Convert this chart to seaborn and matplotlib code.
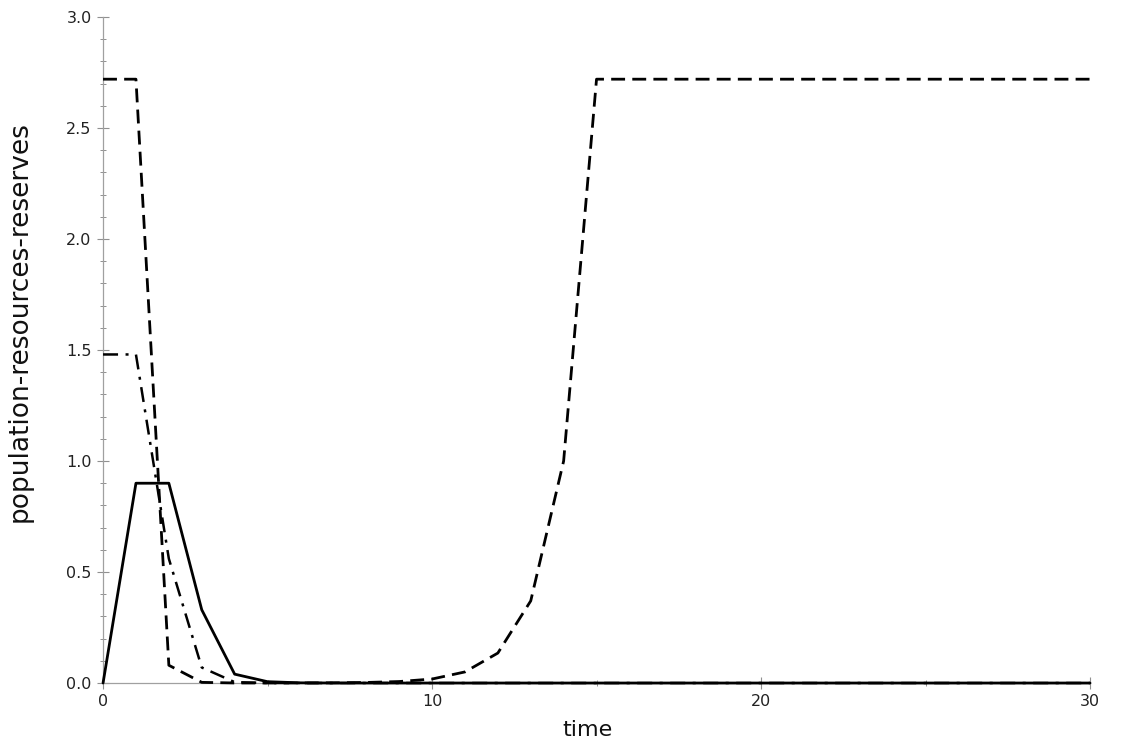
import numpy as np
import pandas as pd
import matplotlib
matplotlib.use("Agg")
import matplotlib.pyplot as plt
import seaborn as sns
from matplotlib.ticker import MultipleLocator

time = list(range(0, 31))
population = [0.0, 0.9, 0.9, 0.33, 0.04, 0.006, 0.0008, 0.0001, 0.0, 0.0,
              0.0, 0.0, 0.0, 0.0, 0.0, 0.0, 0.0, 0.0, 0.0, 0.0,
              0.0, 0.0, 0.0, 0.0, 0.0, 0.0, 0.0, 0.0, 0.0, 0.0, 0.0]
resources = [1.48, 1.48, 0.56, 0.07, 0.004, 0.0002, 0.0, 0.0, 0.0, 0.0,
             0.0, 0.0, 0.0, 0.0, 0.0, 0.0, 0.0, 0.0, 0.0, 0.0,
             0.0, 0.0, 0.0, 0.0, 0.0, 0.0, 0.0, 0.0, 0.0, 0.0, 0.0]
reserves = [2.72, 2.72, 0.08, 0.003, 0.0002, 0.0001, 0.0001, 0.0009, 0.0025, 0.0067,
            0.018, 0.05, 0.135, 0.37, 1.0, 2.72, 2.72, 2.72, 2.72, 2.72,
            2.72, 2.72, 2.72, 2.72, 2.72, 2.72, 2.72, 2.72, 2.72, 2.72, 2.72]

df = pd.DataFrame({"time": time, "population": population,
                   "resources": resources, "reserves": reserves})

sns.set_style("white")
plt.rcParams["font.family"] = ["DejaVu Sans"]

fig = plt.figure(figsize=(11.25, 7.5), dpi=100)
ax = fig.add_axes([0.0916, 0.0893, 0.8773, 0.8880])

sns.lineplot(data=df, x="time", y="reserves", ax=ax, color="black",
             linewidth=2.0, zorder=4)
ax.lines[-1].set_linestyle((0, (5, 2.6)))
sns.lineplot(data=df, x="time", y="resources", ax=ax, color="black",
             linewidth=1.8, zorder=4)
ax.lines[-1].set_linestyle((0, (6, 3, 1.2, 3)))
sns.lineplot(data=df, x="time", y="population", ax=ax, color="black",
             linewidth=2.0, zorder=5)
for ln in ax.lines:
    ln.set_clip_on(False)

ax.set_xlim(0, 30)
ax.set_ylim(0, 3.0)
ax.xaxis.set_major_locator(MultipleLocator(10))
ax.xaxis.set_minor_locator(MultipleLocator(5))
ax.yaxis.set_major_locator(MultipleLocator(0.5))
ax.yaxis.set_minor_locator(MultipleLocator(0.1))
ax.yaxis.set_major_formatter(matplotlib.ticker.FormatStrFormatter("%.1f"))

for side in ["top", "right"]:
    ax.spines[side].set_visible(False)
for side in ["left", "bottom"]:
    ax.spines[side].set_color("#a0a0a0")
    ax.spines[side].set_linewidth(0.9)

ax.tick_params(which="both", bottom=True, left=True)
ax.tick_params(which="major", direction="inout", length=8.5, width=0.8,
               color="#909090", labelsize=11.5, labelcolor="#222222", pad=4)
ax.tick_params(which="minor", direction="inout", length=5, width=0.7,
               color="#909090")

ax.set_xlabel("time", fontsize=16, color="#111111")
ax.set_ylabel("population-resources-reserves", fontsize=19, color="#111111")
ax.xaxis.set_label_coords(0.491, -0.055)
ax.yaxis.set_label_coords(-0.071, 0.542)

fig.savefig("out.png", dpi=100)
